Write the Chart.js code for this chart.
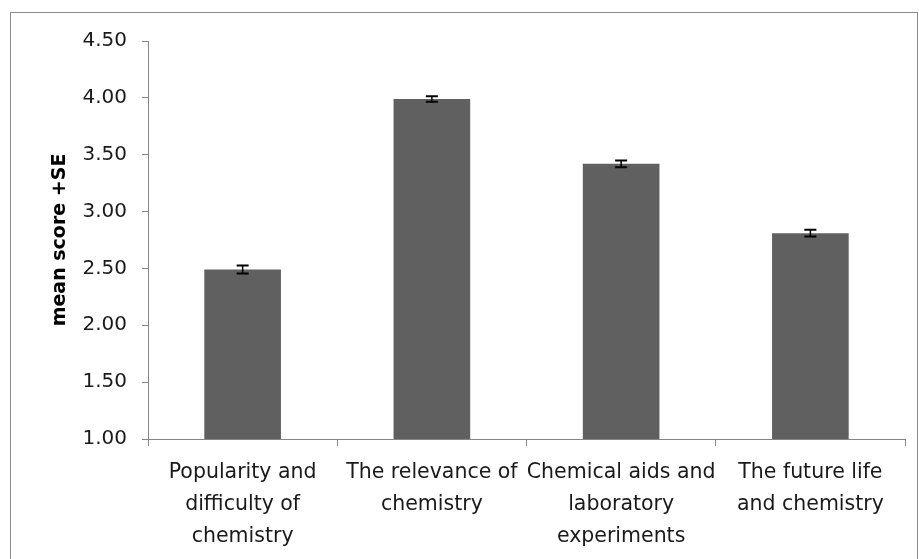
<!DOCTYPE html>
<html>
<head>
<meta charset="utf-8">
<script src="https://cdn.jsdelivr.net/npm/chart.js@4.4.1/dist/chart.umd.min.js"></script>
<style>
  html, body { margin: 0; padding: 0; background: #fff; }
  #wrap { position: relative; width: 919px; height: 559px; }
  #frame { position: absolute; left: 10px; top: 12px; width: 906px; height: 560px; border: 1px solid #8a8a8a; }
  canvas { position: absolute; left: 0; top: 0; }
</style>
</head>
<body>
<div id="wrap">
  <div id="frame"></div>
  <canvas id="chart" width="919" height="559"></canvas>
</div>
<script>
const categories = [
  ['Popularity and', 'difficulty of', 'chemistry'],
  ['The relevance of', 'chemistry'],
  ['Chemical aids and', 'laboratory', 'experiments'],
  ['The future life', 'and chemistry']
];
const meanScores = [2.49, 3.99, 3.42, 2.81];
const standardErrors = [0.035, 0.025, 0.03, 0.03];

// draws the +/- SE whiskers on top of each bar
const errorBars = {
  id: 'errorBars',
  afterDatasetsDraw(chart) {
    const ctx = chart.ctx;
    const y = chart.scales.y;
    const meta = chart.getDatasetMeta(0);
    ctx.save();
    ctx.strokeStyle = '#000';
    meta.data.forEach((bar, i) => {
      const top = y.getPixelForValue(meanScores[i] + standardErrors[i]);
      const bottom = y.getPixelForValue(meanScores[i] - standardErrors[i]);
      ctx.lineWidth = 1.5;
      ctx.beginPath();
      ctx.moveTo(bar.x, top);
      ctx.lineTo(bar.x, bottom);
      ctx.stroke();
      ctx.lineWidth = 2;
      ctx.beginPath();
      ctx.moveTo(bar.x - 6, top);
      ctx.lineTo(bar.x + 6, top);
      ctx.moveTo(bar.x - 6, bottom);
      ctx.lineTo(bar.x + 6, bottom);
      ctx.stroke();
    });
    ctx.restore();
  }
};

new Chart(document.getElementById('chart'), {
  type: 'bar',
  data: {
    labels: categories,
    datasets: [{
      data: meanScores,
      backgroundColor: '#606060',
      barPercentage: 0.405,
      categoryPercentage: 1
    }]
  },
  options: {
    responsive: false,
    animation: false,
    layout: { padding: { top: 41, right: 14, left: 0, bottom: 0 } },
    plugins: {
      legend: { display: false },
      tooltip: { enabled: false }
    },
    scales: {
      x: {
        afterFit: (scale) => { scale.height = 120; },
        border: { display: true, color: '#868686', width: 1 },
        grid: { display: true, drawOnChartArea: false, drawTicks: true, tickLength: 7, color: '#868686', offset: true },
        ticks: {
          color: '#1a1a1a',
          font: { family: 'DejaVu Sans', size: 20.5, lineHeight: 1.56 },
          padding: 11,
          maxRotation: 0,
          autoSkip: false
        }
      },
      y: {
        min: 1,
        max: 4.5,
        afterFit: (scale) => { scale.width = 148; },
        border: { display: true, color: '#868686', width: 1 },
        grid: { display: true, drawOnChartArea: false, drawTicks: true, tickLength: 6, color: '#868686' },
        ticks: {
          stepSize: 0.5,
          color: '#1a1a1a',
          font: { family: 'DejaVu Sans', size: 20 },
          padding: 15,
          callback: (v) => Number(v).toFixed(2)
        },
        title: {
          display: true,
          text: 'mean score +SE',
          color: '#000',
          font: { family: 'DejaVu Sans', size: 19, weight: 'bold' },
          padding: { top: 49, bottom: 0 }
        }
      }
    }
  },
  plugins: [errorBars]
});
</script>
</body>
</html>
